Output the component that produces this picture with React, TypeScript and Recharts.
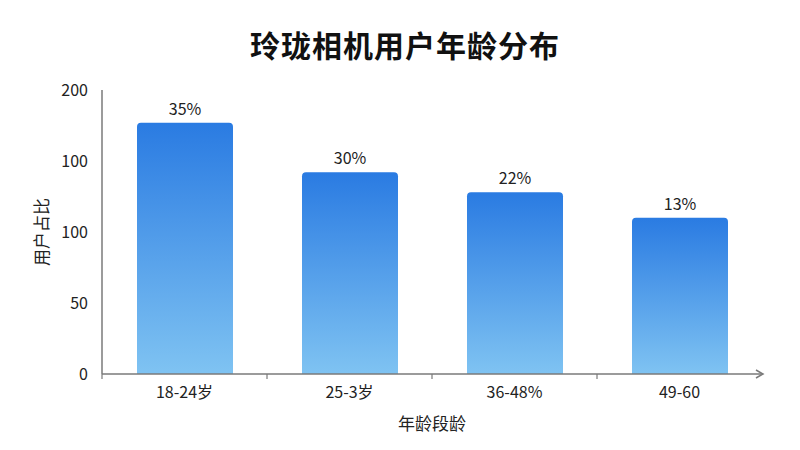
import { Bar, BarChart, LabelList, XAxis, YAxis } from 'recharts'

const ageGroups = ['18-24岁', '25-3岁', '36-48%', '49-60']
const userShare = [177, 142, 128, 110]
const shareLabels = ['35%', '30%', '22%', '13%']
const yTicks = [0, 50, 100, 150, 200]
const yTickLabels = ['0', '50', '100', '100', '200']

const FONT = '"Noto Sans CJK SC", "Noto Sans", sans-serif'
const AXIS_COLOR = '#7a7a7a'

const chartData = ageGroups.map((name, i) => ({ name, value: userShare[i], label: shareLabels[i] }))

function CategoryTick(props: any) {
  const { x, y, payload, width, visibleTicksCount } = props
  const half = payload?.offset ?? width / visibleTicksCount / 2
  return (
    <g>
      <line x1={x - half} y1={y} x2={x - half} y2={y + 5} stroke={AXIS_COLOR} strokeWidth={1.2} />
      <text x={x} y={y + 20} textAnchor="middle" dominantBaseline="middle" fontSize={16} fill="#222" fontFamily={FONT}>
        {payload.value}
      </text>
    </g>
  )
}

export default function App() {
  return (
    <div style={{ position: 'absolute', left: 0, top: 0, width: 800, height: 450, background: '#fff' }}>
      <div
        style={{
          position: 'absolute',
          top: 24,
          left: 0,
          width: 810,
          textAlign: 'center',
          fontFamily: FONT,
          fontWeight: 700,
          fontSize: 30,
          letterSpacing: 1,
          color: '#111',
          lineHeight: '40px',
        }}
      >
        玲珑相机用户年龄分布
      </div>
      <BarChart
        width={800}
        height={450}
        data={chartData}
        margin={{ top: 90, right: 38, bottom: 0, left: 30 }}
        style={{ fontFamily: FONT }}
      >
        <defs>
          <linearGradient id="barFill" x1="0" y1="0" x2="0" y2="1">
            <stop offset="0%" stopColor="#2a7be2" />
            <stop offset="100%" stopColor="#7fc3f2" />
          </linearGradient>
          <marker id="axisArrow" markerWidth="10" markerHeight="10" refX="7" refY="5" orient="auto" markerUnits="userSpaceOnUse">
            <path d="M1,1 L8,5 L1,9" fill="none" stroke={AXIS_COLOR} strokeWidth={1.5} />
          </marker>
        </defs>
        <XAxis
          dataKey="name"
          tickLine={false}
          tickSize={0}
          tickMargin={0}
          height={76}
          axisLine={{ stroke: AXIS_COLOR, strokeWidth: 1.5, markerEnd: 'url(#axisArrow)' }}
          tick={<CategoryTick />}
          interval={0}
          label={{ value: '年龄段龄', position: 'insideBottom', offset: 20, fontSize: 17, fill: '#222', fontFamily: FONT }}
        />
        <YAxis
          domain={[0, 200]}
          ticks={yTicks}
          tickFormatter={(v: number) => yTickLabels[yTicks.indexOf(v)]}
          tickLine={false}
          tickMargin={8}
          width={72}
          axisLine={{ stroke: AXIS_COLOR, strokeWidth: 1.5 }}
          tick={{ fontSize: 16, fill: '#222', fontFamily: FONT }}
          label={{
            value: '用户占比',
            angle: -90,
            position: 'insideLeft',
            offset: 12,
            textAnchor: 'middle',
            fontSize: 17,
            fill: '#222',
            fontFamily: FONT,
          }}
        />
        <Bar dataKey="value" fill="url(#barFill)" barSize={96} radius={[4, 4, 0, 0]} isAnimationActive={false}>
          <LabelList dataKey="label" position="top" offset={8} fontSize={16} fill="#222" fontFamily={FONT} />
        </Bar>
      </BarChart>
    </div>
  )
}
